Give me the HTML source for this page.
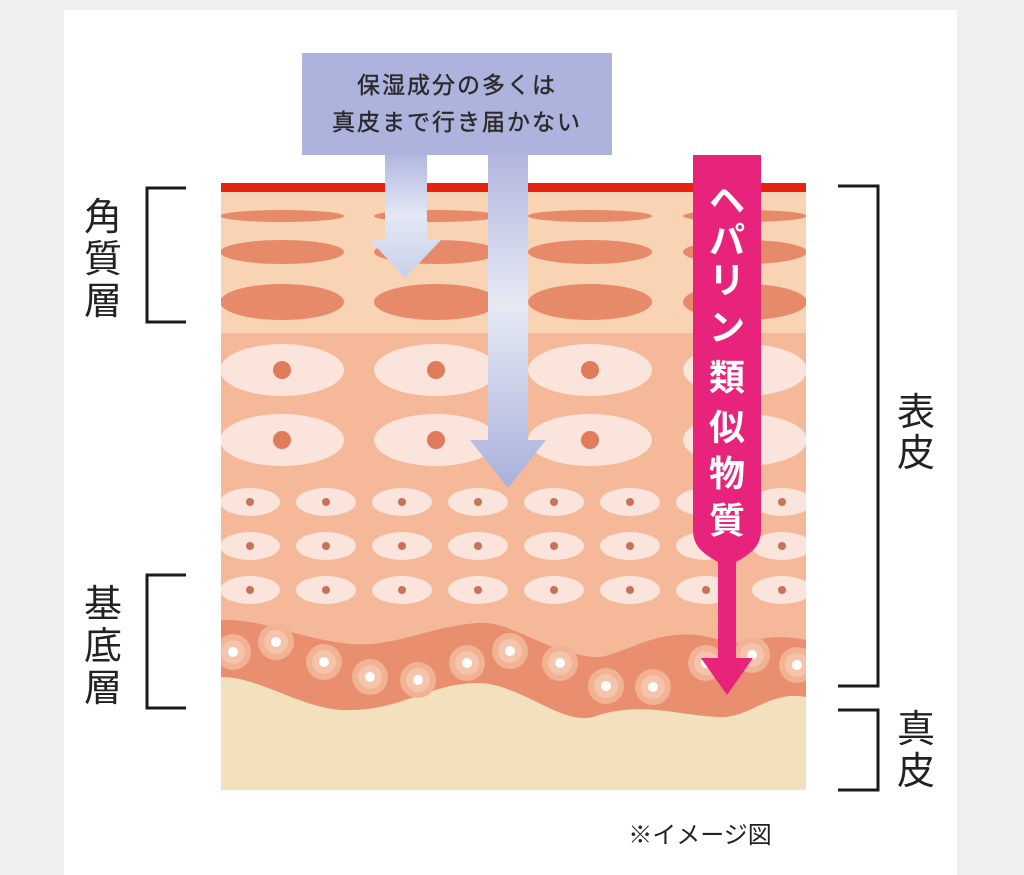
<!DOCTYPE html>
<html><head><meta charset="utf-8"><style>
html,body{margin:0;padding:0;background:#efefef;}
svg{display:block;}
text{font-family:"Liberation Sans","Noto Sans CJK JP",sans-serif;}
</style></head><body>
<svg width="1024" height="875" viewBox="0 0 1024 875" xmlns="http://www.w3.org/2000/svg">
<defs>
<linearGradient id="bl" x1="0" y1="0" x2="0" y2="1">
<stop offset="0" stop-color="#b2b7df"/><stop offset="0.45" stop-color="#e6eaf5"/><stop offset="1" stop-color="#a9b1dc"/>
</linearGradient>
<linearGradient id="bl2" x1="0" y1="0" x2="0" y2="1">
<stop offset="0" stop-color="#b2b7df"/><stop offset="0.5" stop-color="#e4e8f4"/><stop offset="1" stop-color="#c8d0ea"/>
</linearGradient>
<clipPath id="dg"><rect x="221" y="183" width="585" height="607"/></clipPath>
</defs>
<rect x="0" y="0" width="1024" height="875" fill="#efefef"/>
<rect x="64" y="10" width="893" height="865" fill="#ffffff"/>

<g clip-path="url(#dg)">
<rect x="221" y="183" width="585" height="607" fill="#f3e0bd"/>
<rect x="221" y="192" width="585" height="141" fill="#f8d3b4"/>
<path d="M221 333 H806 V640 C760 630 740 650 720 640 C660 620 620 660 593 657 C540 650 510 620 477 623 C430 626 390 650 343 643 C290 636 260 618 221 620 Z" fill="#f5b898"/>
<path d="M221 620 C260 618 290 636 343 643 C390 650 430 626 477 623 C510 620 540 650 593 657 C620 660 660 620 720 640 C740 650 760 630 806 640 V697 C770 690 750 718 720 717 C680 716 640 700 593 717 C560 725 520 683 477 683 C430 683 400 712 343 710 C300 708 260 677 221 677 Z" fill="#e98e6f"/>
<rect x="221" y="183" width="585" height="9" fill="#e5230f"/>
<g fill="#e68a69">
<ellipse cx="282" cy="216" rx="62" ry="6"/><ellipse cx="436" cy="216" rx="62" ry="6"/><ellipse cx="590" cy="216" rx="62" ry="6"/><ellipse cx="745" cy="216" rx="62" ry="6"/>
<ellipse cx="282" cy="252" rx="62" ry="12"/><ellipse cx="436" cy="252" rx="62" ry="12"/><ellipse cx="590" cy="252" rx="62" ry="12"/><ellipse cx="745" cy="252" rx="62" ry="12"/>
<ellipse cx="282" cy="302" rx="62" ry="18"/><ellipse cx="436" cy="302" rx="62" ry="18"/><ellipse cx="590" cy="302" rx="62" ry="18"/><ellipse cx="745" cy="302" rx="62" ry="18"/>
</g>
<g fill="#fbe4db">
<ellipse cx="282" cy="370" rx="62" ry="26"/><ellipse cx="436" cy="370" rx="62" ry="26"/><ellipse cx="590" cy="370" rx="62" ry="26"/><ellipse cx="745" cy="370" rx="62" ry="26"/>
<ellipse cx="282" cy="440" rx="62" ry="26"/><ellipse cx="436" cy="440" rx="62" ry="26"/><ellipse cx="590" cy="440" rx="62" ry="26"/><ellipse cx="745" cy="440" rx="62" ry="26"/>
</g>
<g fill="#e07b5b">
<circle cx="282" cy="370" r="9"/><circle cx="436" cy="370" r="9"/><circle cx="590" cy="370" r="9"/><circle cx="745" cy="370" r="9"/>
<circle cx="282" cy="440" r="9"/><circle cx="436" cy="440" r="9"/><circle cx="590" cy="440" r="9"/><circle cx="745" cy="440" r="9"/>
</g>
<g id="sr">
<g fill="#fbe4db">
<ellipse cx="250" cy="502" rx="30" ry="14"/><ellipse cx="326" cy="502" rx="30" ry="14"/><ellipse cx="402" cy="502" rx="30" ry="14"/><ellipse cx="478" cy="502" rx="30" ry="14"/><ellipse cx="554" cy="502" rx="30" ry="14"/><ellipse cx="630" cy="502" rx="30" ry="14"/><ellipse cx="706" cy="502" rx="30" ry="14"/><ellipse cx="782" cy="502" rx="30" ry="14"/>
</g>
<g fill="#c8725a">
<circle cx="250" cy="502" r="4"/><circle cx="326" cy="502" r="4"/><circle cx="402" cy="502" r="4"/><circle cx="478" cy="502" r="4"/><circle cx="554" cy="502" r="4"/><circle cx="630" cy="502" r="4"/><circle cx="706" cy="502" r="4"/><circle cx="782" cy="502" r="4"/>
</g>
</g>
<use href="#sr" y="44"/>
<use href="#sr" y="88"/>
<g id="bc">
<circle r="18" fill="#f2b294"/><circle r="12" fill="#f6c4aa"/><circle r="5" fill="#ffffff"/>
</g>
<use href="#bc" x="233" y="652"/><use href="#bc" x="276" y="642"/><use href="#bc" x="324" y="662"/><use href="#bc" x="370" y="677"/><use href="#bc" x="418" y="680"/><use href="#bc" x="467" y="663"/><use href="#bc" x="510" y="651"/><use href="#bc" x="560" y="663"/><use href="#bc" x="606" y="686"/><use href="#bc" x="653" y="687"/><use href="#bc" x="706" y="663"/><use href="#bc" x="752" y="655"/><use href="#bc" x="797" y="665"/>
</g>

<rect x="302" y="53" width="310" height="102" fill="#adb3dd"/>
<path d="M385 155 H427 V240 H441 L405 278 L370 240 H385 Z" fill="url(#bl2)"/>
<path d="M488 155 H528 V440 H546 L508 488 L470 440 H488 Z" fill="url(#bl)"/>
<text x="457" y="93" font-size="23" fill="#2a2a2a" stroke="#2a2a2a" stroke-width="0.4" text-anchor="middle" letter-spacing="2">保湿成分の多くは</text>
<text x="457" y="130" font-size="23" fill="#2a2a2a" stroke="#2a2a2a" stroke-width="0.4" text-anchor="middle" letter-spacing="2">真皮まで行き届かない</text>

<path d="M693 155 H761 V530 C761 548 748 555 736 562 V658 H753 L727 695 L701 658 H718 V562 C706 555 693 548 693 530 Z" fill="#e8237b"/>
<g font-size="36" font-weight="bold" fill="#fff" text-anchor="middle">
<text x="727" y="213">ヘ</text><text x="727" y="253">パ</text><text x="727" y="293">リ</text><text x="727" y="340">ン</text>
<text x="727" y="390">類</text><text x="727" y="440">似</text><text x="727" y="486">物</text><text x="727" y="533">質</text>
</g>

<g stroke="#1a1a1a" stroke-width="3" fill="none">
<path d="M186 188 H147 V322 H186"/>
<path d="M186 575 H147 V708 H186"/>
<path d="M838 186 H878 V686 H838"/>
<path d="M838 710 H878 V790 H838"/>
</g>
<g font-size="38" fill="#222" text-anchor="middle">
<text x="103" y="230">角</text><text x="103" y="272">質</text><text x="103" y="314">層</text>
<text x="103" y="617">基</text><text x="103" y="659">底</text><text x="103" y="701">層</text>
<text x="916" y="425">表</text><text x="916" y="466">皮</text>
<text x="916" y="742">真</text><text x="916" y="784">皮</text>
</g>
<text x="700" y="843" font-size="24" fill="#222" text-anchor="middle">※イメージ図</text>
</svg>
</body></html>
